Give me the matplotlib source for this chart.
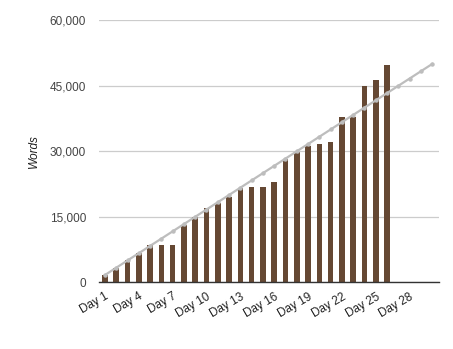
import matplotlib
matplotlib.use("Agg")
import matplotlib.pyplot as plt
import numpy as np

plt.rcParams['font.family'] = ['Liberation Sans', 'DejaVu Sans']

days = [f"Day {i}" for i in range(1, 31)]
words = [1670, 3200, 5100, 6650, 8550, 8550, 8550, 13100, 14900, 16950,
         18100, 19600, 21500, 21800, 21800, 22950, 28150, 29750, 31300, 31650,
         32150, 37850, 37900, 44950, 46350, 49750]
target = [round(50000 * (i + 1) / 30) for i in range(30)]
yticks = [0, 15000, 30000, 45000, 60000]
ytick_labels = ["0", "15,000", "30,000", "45,000", "60,000"]

fig = plt.figure(figsize=(4.53, 3.49), dpi=100)
ax = fig.add_axes([0.2192, 0.1911, 0.969 - 0.2192, 0.9418 - 0.1911])

x = np.arange(len(days))
ax.bar(x[:len(words)], words, width=0.5, color="#654833", zorder=2)
ax.plot(x, target, color="#bdbdbd", linewidth=1.6, marker="o", markersize=2.2,
        zorder=3)

ax.set_xlim(-0.5, 29.6)
ax.set_ylim(0, 60000)
ax.set_yticks(yticks)
ax.set_yticklabels(ytick_labels)
ax.yaxis.grid(True, color="#cccccc", linewidth=0.9, zorder=0)
ax.set_axisbelow(True)

ax.set_xticks(x[::3])
ax.set_xticklabels(days[::3], rotation=30, ha="right", rotation_mode="anchor")
ax.tick_params(axis="x", length=0, pad=6, labelsize=8.5, labelcolor="#222222")
ax.tick_params(axis="y", length=0, pad=9.5, labelsize=8.5, labelcolor="#444444")

for s in ["top", "right", "left"]:
    ax.spines[s].set_visible(False)
ax.spines["bottom"].set_color("#333333")
ax.spines["bottom"].set_linewidth(1.0)
ax.spines["bottom"].set_zorder(4)

ax.set_ylabel("Words", fontstyle="italic", fontsize=8.5, color="#222222",
              labelpad=7)

fig.savefig("out.png", dpi=100)
